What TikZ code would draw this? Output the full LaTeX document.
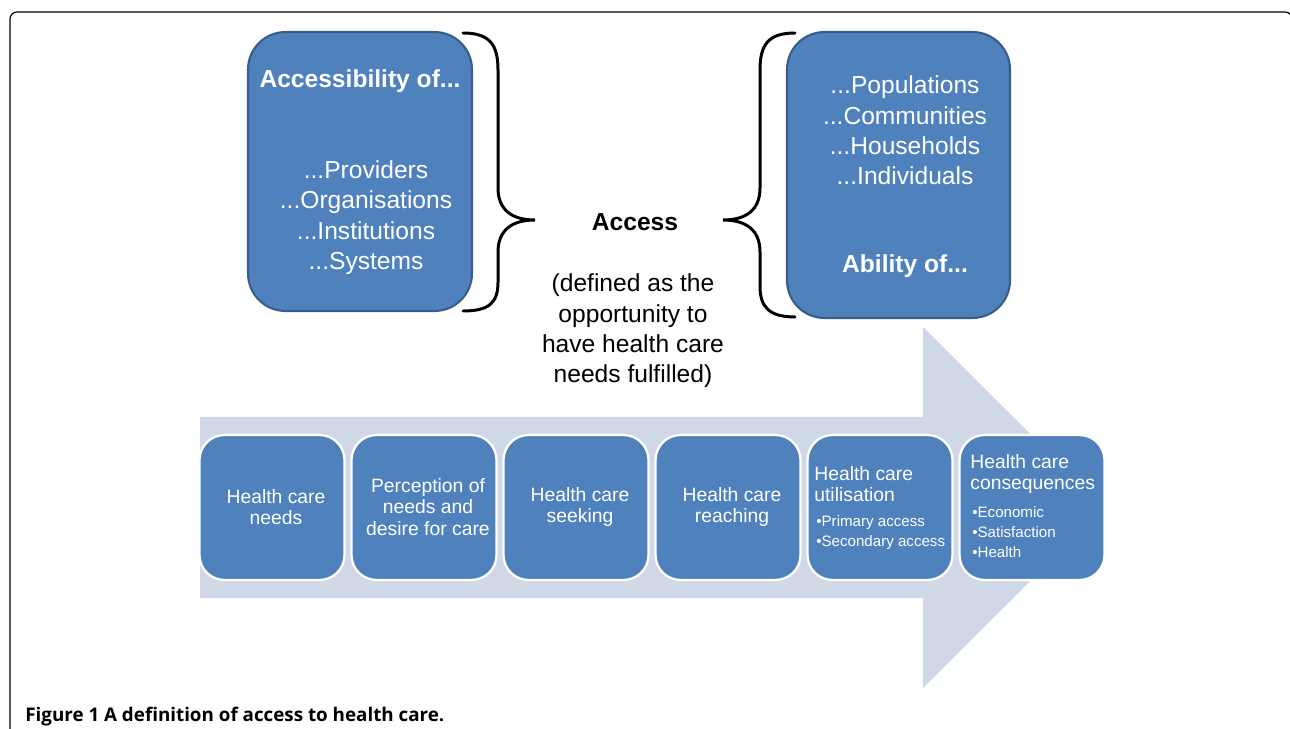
\documentclass[tikz,border=0pt]{standalone}
\usepackage{fontspec}
\setmainfont{Liberation Sans}
\newfontfamily\capfont{Open Sans}
\definecolor{boxblue}{RGB}{79,129,189}
\definecolor{boxline}{RGB}{56,93,138}
\definecolor{arrowfill}{RGB}{208,216,232}
\tikzset{
  topbox/.style={draw=boxline, line width=1.2pt, fill=boxblue, rounded corners=0.75cm, inner sep=0pt},
  stage/.style={draw=white, line width=1.3pt, fill=boxblue, rounded corners=0.5cm,
    minimum width=2.9cm, minimum height=2.9cm, inner sep=0pt},
  stagetext/.style={text=white, align=center, inner sep=0pt, font=\fontsize{11}{12.4}\selectfont},
  toptext/.style={text=white, align=center, inner sep=0pt, font=\fontsize{14}{17.3}\selectfont},
  stagehead/.style={text=white, align=left, anchor=west, inner sep=0pt, font=\fontsize{11}{12.4}\selectfont},
  bullets/.style={text=white, align=left, anchor=west, inner sep=0pt, font=\fontsize{8.6}{11.3}\selectfont},
  bracket/.style={line width=1.7pt, line cap=round}
}
\begin{document}
\begin{tikzpicture}[x=0.02cm, y=-0.02cm]
    \useasboundingbox (0,0) rectangle (1290,729);
    \draw[line width=0.7pt, rounded corners=4pt] (10,740) -- (10,12) -- (1292,12) -- (1292,40);

      % big arrow behind the stages
      \fill[arrowfill] (200,417) -- (923,417) -- (923,327) -- (1104,507.5)
        -- (923,688) -- (923,598) -- (200,598) -- cycle;

      % top boxes
      \node[topbox, minimum width=4.48cm, minimum height=5.58cm] (accbox) at (360,171.5) {};
      \node[toptext, font=\fontsize{14}{17.3}\selectfont\bfseries] (acctitle) at (360,81) {Accessibility of...};
      \node[toptext] (acclist) at (366,217.5) {...Providers\\...Organisations\\...Institutions\\...Systems};

      \node[topbox, minimum width=4.46cm, minimum height=5.72cm] (ablbox) at (898.5,175) {};
      \node[toptext] (abllist) at (905,130.5) {...Populations\\...Communities\\...Households\\...Individuals};
      \node[toptext, font=\fontsize{14}{17.3}\selectfont\bfseries] (abltitle) at (905,266) {Ability of...};

      % braces
      \draw[bracket] (463,33) .. controls (490,33) and (498,45) .. (498,70) -- (498,188)
        .. controls (498,210) and (512,220) .. (535,220)
        .. controls (512,220) and (498,230) .. (498,252) -- (498,282)
        .. controls (498,302) and (490,311) .. (463,311);
      \draw[bracket] (795,33) .. controls (768,33) and (760,45) .. (760,70) -- (760,188)
        .. controls (760,210) and (746,220) .. (723,220)
        .. controls (746,220) and (760,230) .. (760,252) -- (760,286)
        .. controls (760,306) and (768,317) .. (795,317);

      \node[toptext, text=black, font=\fontsize{14}{17.3}\selectfont\bfseries] (access) at (635,222) {Access};
      \node[toptext, text=black] (defn) at (633,331) {(defined as the\\opportunity to\\have health care\\needs fulfilled)};

      % stages
      \node[stage] (needs) at (272,507.5) {};
      \node[stage] (percep) at (424,507.5) {};
      \node[stage] (seek) at (576,507.5) {};
      \node[stage] (reach) at (728,507.5) {};
      \node[stage] (util) at (880,507.5) {};
      \node[stage] (conseq) at (1032,507.5) {};

      \node[stagetext] (needstext) at (276,507) {Health care\\needs};
      \node[stagetext] (perceptext) at (428,507) {Perception of\\needs and\\desire for care};
      \node[stagetext] (seektext) at (580,507) {Health care\\seeking};
      \node[stagetext] (reachtext) at (732,507) {Health care\\reaching};
      \node[stagehead] (utilhead) at (814,484) {Health care\\utilisation};
      \node[bullets] (utillist) at (816,533) {\textbullet Primary access\\\textbullet Secondary access};
      \node[stagehead] (conshead) at (970,474) {Health care\\consequences};
      \node[bullets] (conslist) at (972,532) {\textbullet Economic\\\textbullet Satisfaction\\\textbullet Health};

      \node[anchor=west, inner sep=0pt, font=\capfont\bfseries\fontsize{10.7}{12}\selectfont] (caption) at (25,717)
        {Figure 1 A definition of access to health care.};
  \end{tikzpicture}
\end{document}
